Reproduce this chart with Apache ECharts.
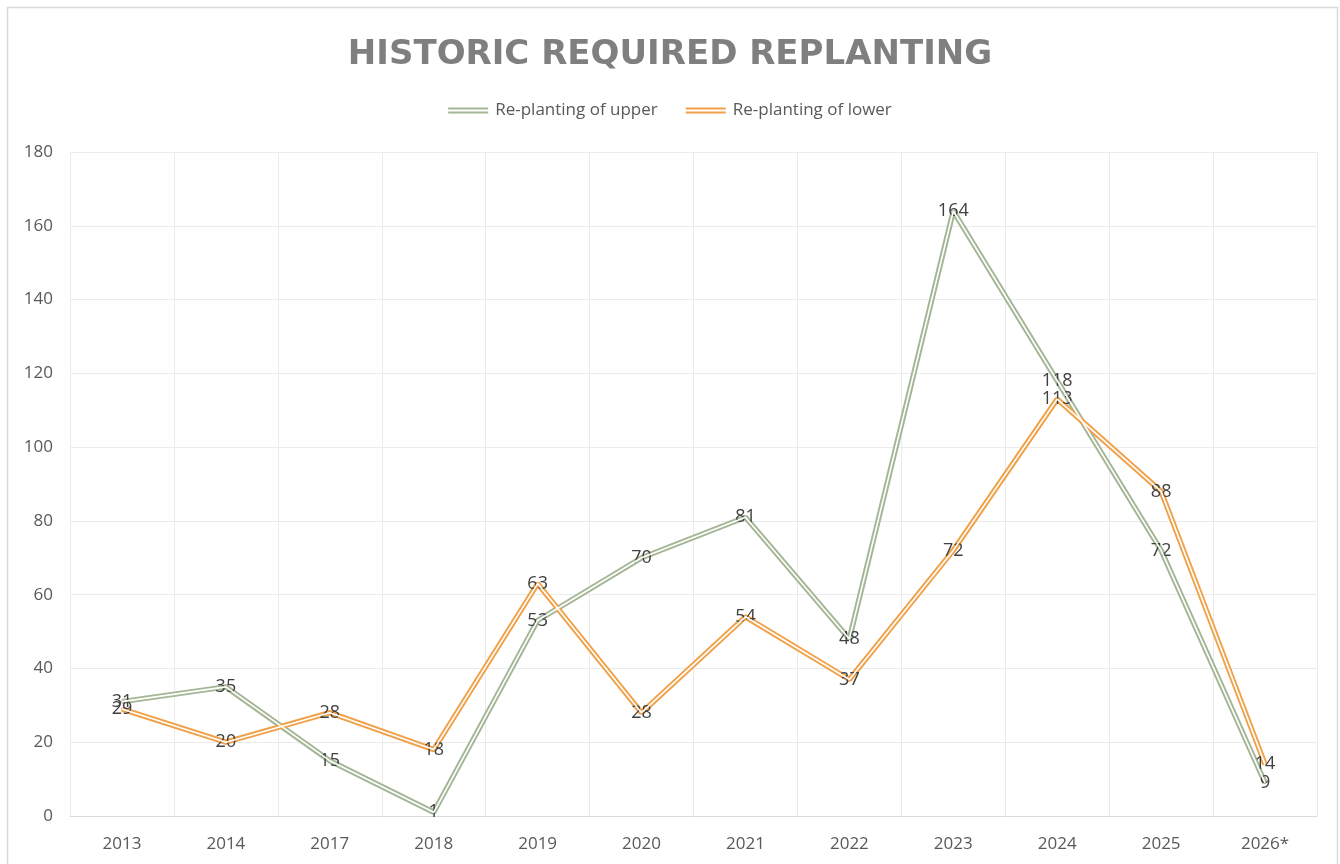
<!DOCTYPE html>
<html>
<head>
<meta charset="utf-8">
<script src="https://cdn.jsdelivr.net/npm/echarts@6/dist/echarts.min.js"></script>
<style>
html,body{margin:0;padding:0;background:#fff;}
#main{width:1340px;height:864px;}
</style>
</head>
<body>
<div id="main"></div>
<script>
var categories = ['2013','2014','2017','2018','2019','2020','2021','2022','2023','2024','2025','2026*'];
var upperValues = [31,35,15,1,53,70,81,48,164,118,72,9];
var lowerValues = [29,20,28,18,63,28,54,37,72,113,88,14];
var yTicks = [0,20,40,60,80,100,120,140,160,180];

var greenColor = '#A5B696';
var orangeColor = '#F0A24B';
var font = 'Open Sans';

var chart = echarts.init(document.getElementById('main'));

function outer(name, data, color) {
  return {
    name: name, type: 'line', data: data, symbol: 'circle', symbolSize: 2, showSymbol: true,
    lineStyle: { color: color, width: 5.5 },
    itemStyle: { color: color },
    z: 2,
    label: { show: true, position: 'inside', offset: [0, 2], color: '#404040', fontSize: 18, fontFamily: font },
    labelLayout: { hideOverlap: false },
    emphasis: { disabled: true }
  };
}
function inner(name, data) {
  return {
    name: name + ' inner', type: 'line', data: data, symbol: 'none',
    lineStyle: { color: '#ffffff', width: 1.6 },
    z: 3, silent: true, label: { show: false }, emphasis: { disabled: true }
  };
}

var dbl = 'path://M0,0 H40 V2 H0 Z M0,4 H40 V6 H0 Z';

chart.setOption({
  animation: false,
  backgroundColor: '#ffffff',
  title: {
    text: 'HISTORIC REQUIRED REPLANTING',
    left: 'center', top: 33,
    textStyle: { fontFamily: 'DejaVu Sans', fontWeight: 'bold', fontSize: 34, color: '#7F7F7F' }
  },
  legend: {
    top: 97, left: 'center', itemGap: 28, itemWidth: 44, itemHeight: 6,
    data: [
      { name: 'Re-planting of upper', icon: dbl, itemStyle: { color: greenColor } },
      { name: 'Re-planting of lower', icon: dbl, itemStyle: { color: orangeColor } }
    ],
    textStyle: { fontFamily: font, fontSize: 17, color: '#595959' }
  },
  grid: { left: 70, right: 23, top: 152, bottom: 48, containLabel: false },
  xAxis: {
    type: 'category', data: categories, boundaryGap: true,
    axisLine: { show: true, lineStyle: { color: '#D9D9D9', width: 1 } },
    axisTick: { show: false },
    axisLabel: { color: '#595959', fontFamily: font, fontSize: 17, margin: 20 },
    splitLine: { show: true, lineStyle: { color: '#EBEBEB', width: 1 } }
  },
  yAxis: {
    type: 'value', min: yTicks[0], max: yTicks[yTicks.length - 1], interval: 20,
    axisLine: { show: false }, axisTick: { show: false },
    axisLabel: { color: '#595959', fontFamily: font, fontSize: 17, margin: 17 },
    splitLine: { show: true, lineStyle: { color: '#EBEBEB', width: 1 } }
  },
  graphic: [{
    type: 'rect', shape: { x: 7.5, y: 7.5, width: 1330, height: 880 },
    style: { fill: 'none', stroke: '#D9D9D9', lineWidth: 1.5 }, silent: true, z: 100
  }],
  series: [
    outer('Re-planting of upper', upperValues, greenColor),
    inner('Re-planting of upper', upperValues),
    outer('Re-planting of lower', lowerValues, orangeColor),
    inner('Re-planting of lower', lowerValues)
  ]
});
</script>
</body>
</html>
